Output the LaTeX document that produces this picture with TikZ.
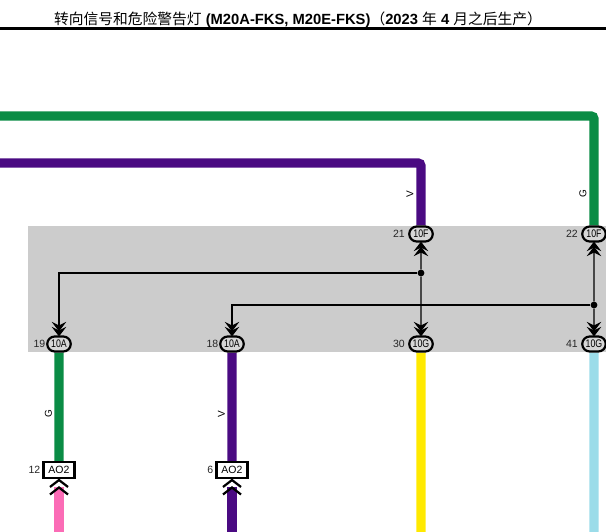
\documentclass[tikz,border=0pt]{standalone}
\usepackage{fontspec}
\setmainfont{Liberation Sans}
\newfontfamily\cjk{Noto Sans CJK SC}
\usetikzlibrary{arrows.meta, shapes.misc, backgrounds}

\definecolor{wireGreen}{HTML}{0A8C45}
\definecolor{wireViolet}{HTML}{4A0A82}
\definecolor{wireYellow}{HTML}{FFE900}
\definecolor{wireBlue}{HTML}{9BDCE9}
\definecolor{wirePink}{HTML}{FB6CB6}
\definecolor{boxGrey}{HTML}{CCCCCC}

\tikzset{
    wire/.style={line width=9.3pt, rounded corners=3pt},
    signal/.style={line width=1.3pt, shorten >=-1pt,
        -{Stealth[length=9.5pt, width=14.5pt, inset=3.5pt, sep=-4.5pt]Stealth[length=9.5pt, width=14.5pt, inset=3.5pt]}},
    pin/.style={draw, rounded rectangle, line width=2.2pt, fill=boxGrey!80!white,
        minimum width=23.5pt, minimum height=15pt, inner sep=0pt, font=\fontsize{11}{11}\selectfont},
    plug/.style={draw, line width=2.2pt, fill=white, minimum width=31pt, minimum height=15.5pt,
        inner sep=0pt, font=\fontsize{10.5}{10.5}\selectfont},
    junction/.style={circle, fill=black, minimum size=6.8pt, inner sep=0pt},
    tag/.style={font=\fontsize{10.5}{10.5}\selectfont, inner sep=0pt, anchor=east, text=black!85},
    colorcode/.style={font=\fontsize{10}{10}\selectfont, inner sep=0pt, rotate=90},
    chevron/.style={line width=2.2pt, miter limit=2}
}
\newcommand{\narrowtext}[1]{\scalebox{.8}[1]{#1}}

\begin{document}
\begin{tikzpicture}[x=1pt, y=-1pt]
    \path[use as bounding box] (0,0) rectangle (606,532);

    % title
    \node (title) at (298,19.5) [inner sep=0pt, font=\fontsize{14.75}{15}\selectfont]
        {{\cjk 转向信号和危险警告灯} \textbf{(M20A-FKS, M20E-FKS)}{\cjk （}\textbf{2023} {\cjk 年} \textbf{4} {\cjk 月之后生产）}};
    \coordinate (ruleL) at (0,28.5);
    \coordinate (ruleR) at (606,28.5);
    \draw[line width=2.4pt] (ruleL) -- (ruleR);

    % connectors
    \node (pinA) at (59,344) [pin] {\narrowtext{10A}};
    \node (pinB) at (232,344) [pin] {\narrowtext{10A}};
    \node (pinC) at (421,344) [pin] {\narrowtext{10G}};
    \node (pinD) at (594,344) [pin] {\narrowtext{10G}};
    \node (pinE) at (421,234) [pin] {\narrowtext{10F}};
    \node (pinF) at (594,234) [pin] {\narrowtext{10F}};
    \node (plugA) at (59,470) [plug] {AO2};
    \node (plugB) at (232,470) [plug] {AO2};

    % free wire ends
    \coordinate (violetIn) at (0,163);
    \coordinate (greenIn) at (0,116);
    \coordinate (pinkEnd) at (59,532);
    \coordinate (violetEnd) at (232,532);
    \coordinate (yellowEnd) at (421,532);
    \coordinate (blueEnd) at (594,532);
    \coordinate (pinkTop) at (59,487);
    \coordinate (violetTop) at (232,487);

    % wires
    \begin{pgfonlayer}{background}
        \fill[boxGrey] (28,226) rectangle (606,352);
        \draw[wire, wireGreen] (greenIn) -| (pinF);
        \draw[wire, wireViolet] (violetIn) -| (pinE);
        \draw[wire, wireGreen] (pinA) -- (plugA);
        \draw[wire, wireViolet] (pinB) -- (plugB);
        \draw[wire, wirePink] (pinkTop) -- (pinkEnd);
        \draw[wire, wireViolet] (violetTop) -- (violetEnd);
        \draw[wire, wireYellow] (pinC) -- (yellowEnd);
        \draw[wire, wireBlue] (pinD) -- (blueEnd);
    \end{pgfonlayer}

    % inner lines
    \node (jointA) at (421,273) [junction] {};
    \node (jointB) at (594,305) [junction] {};
    \draw[signal] (jointA) -- (pinE);
    \draw[signal] (jointA) -- (pinC);
    \draw[signal] (jointB) -- (pinF);
    \draw[signal] (jointB) -- (pinD);
    \draw[signal] (jointA) -| (pinA);
    \draw[signal] (jointB) -| (pinB);

    % chevrons under the plugs
    \draw[chevron] (50,487) -- (59,480) -- (68,487);
    \draw[chevron] (50,494.5) -- (59,487.5) -- (68,494.5);
    \draw[chevron] (223,487) -- (232,480) -- (241,487);
    \draw[chevron] (223,494.5) -- (232,487.5) -- (241,494.5);

    % pin numbers
    \node at (45.5,344) [tag] {19};
    \node at (218.5,344) [tag] {18};
    \node at (405,344) [tag] {30};
    \node at (578,344) [tag] {41};
    \node at (405,234) [tag] {21};
    \node at (578,234) [tag] {22};
    \node at (40.5,470) [tag] {12};
    \node at (213.5,470) [tag] {6};

    % colour codes
    \node at (410,194) [colorcode] {V};
    \node at (583,194) [colorcode] {G};
    \node at (48.5,414) [colorcode] {G};
    \node at (221.5,414) [colorcode] {V};
\end{tikzpicture}
\end{document}
